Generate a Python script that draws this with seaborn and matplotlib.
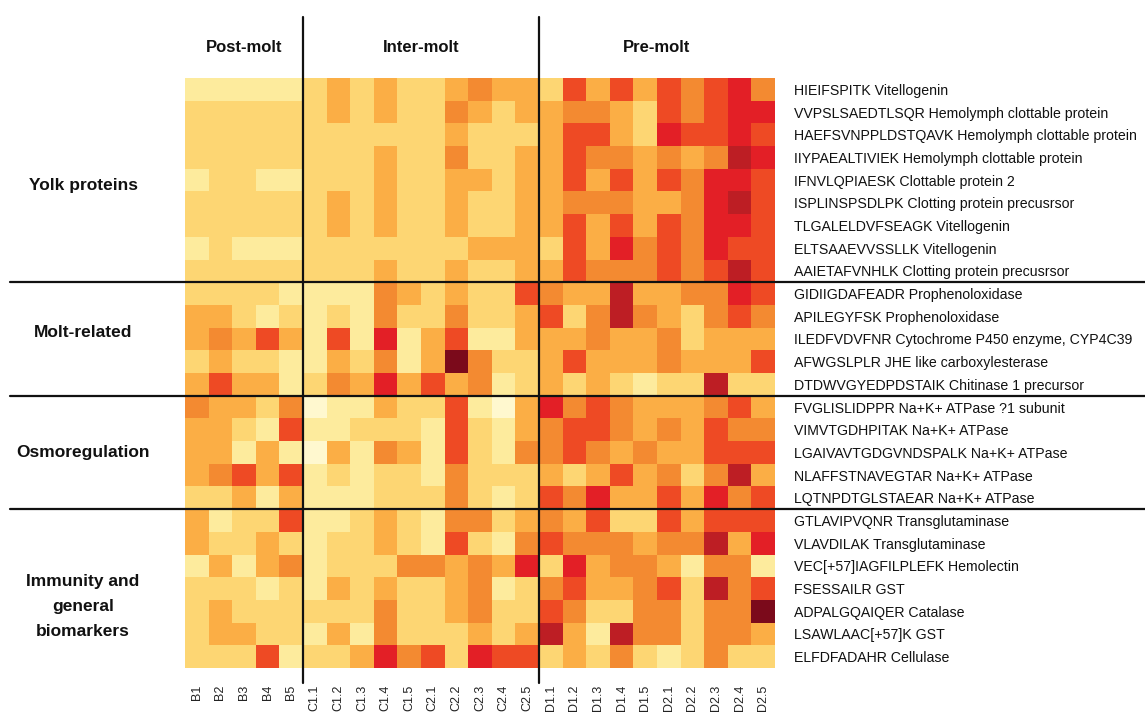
import numpy as np
import pandas as pd
import seaborn as sns
import matplotlib.pyplot as plt
from matplotlib.colors import ListedColormap

# column (sample) labels
samples_b = ["B1", "B2", "B3", "B4", "B5"]
samples_c = ["C1.1", "C1.2", "C1.3", "C1.4", "C1.5", "C2.1", "C2.2", "C2.3", "C2.4", "C2.5"]
samples_d = ["D1.1", "D1.2", "D1.3", "D1.4", "D1.5", "D2.1", "D2.2", "D2.3", "D2.4", "D2.5"]

# peptide labels per group
yolk_rows = [
    "HIEIFSPITK Vitellogenin",
    "VVPSLSAEDTLSQR Hemolymph clottable protein",
    "HAEFSVNPPLDSTQAVK Hemolymph clottable protein",
    "IIYPAEALTIVIEK Hemolymph clottable protein",
    "IFNVLQPIAESK Clottable protein 2",
    "ISPLINSPSDLPK Clotting protein precusrsor",
    "TLGALELDVFSEAGK Vitellogenin",
    "ELTSAAEVVSSLLK Vitellogenin",
    "AAIETAFVNHLK Clotting protein precusrsor",
]
molt_rows = [
    "GIDIIGDAFEADR Prophenoloxidase",
    "APILEGYFSK Prophenoloxidase",
    "ILEDFVDVFNR Cytochrome P450 enzyme, CYP4C39",
    "AFWGSLPLR JHE like carboxylesterase",
    "DTDWVGYEDPDSTAIK Chitinase 1 precursor",
]
osmo_rows = [
    "FVGLISLIDPPR Na+K+ ATPase ?1 subunit",
    "VIMVTGDHPITAK Na+K+ ATPase",
    "LGAIVAVTGDGVNDSPALK Na+K+ ATPase",
    "NLAFFSTNAVEGTAR Na+K+ ATPase",
    "LQTNPDTGLSTAEAR Na+K+ ATPase",
]
immu_rows = [
    "GTLAVIPVQNR Transglutaminase",
    "VLAVDILAK Transglutaminase",
    "VEC[+57]IAGFILPLEFK Hemolectin",
    "FSESSAILR GST",
    "ADPALGQAIQER Catalase",
    "LSAWLAAC[+57]K GST",
    "ELFDFADAHR Cellulase",
]

# abundance level (0 = lowest, 8 = highest), columns B1..B5, C1.1..C2.5, D1.1..D2.5
yolk_levels = [
    [1, 1, 1, 1, 1, 2, 3, 2, 3, 2, 2, 3, 4, 3, 3, 2, 5, 3, 5, 3, 5, 4, 5, 6, 4],
    [2, 2, 2, 2, 2, 2, 3, 2, 3, 2, 2, 4, 3, 2, 3, 3, 4, 4, 3, 2, 5, 4, 5, 6, 6],
    [2, 2, 2, 2, 2, 2, 2, 2, 2, 2, 2, 3, 2, 2, 2, 3, 5, 5, 3, 2, 6, 5, 5, 6, 5],
    [2, 2, 2, 2, 2, 2, 2, 2, 3, 2, 2, 4, 2, 2, 3, 3, 5, 4, 4, 3, 4, 3, 4, 7, 6],
    [1, 2, 2, 1, 1, 2, 2, 2, 3, 2, 2, 3, 3, 2, 3, 3, 5, 3, 5, 3, 5, 4, 6, 6, 5],
    [2, 2, 2, 2, 2, 2, 3, 2, 3, 2, 2, 3, 2, 2, 3, 3, 4, 4, 4, 3, 3, 4, 6, 7, 5],
    [2, 2, 2, 2, 2, 2, 3, 2, 3, 2, 2, 3, 2, 2, 3, 3, 5, 3, 5, 3, 5, 4, 6, 6, 5],
    [1, 2, 1, 1, 1, 2, 2, 2, 2, 2, 2, 2, 3, 3, 3, 2, 5, 3, 6, 4, 5, 4, 6, 5, 5],
    [2, 2, 2, 2, 2, 2, 2, 2, 3, 2, 2, 3, 2, 2, 3, 3, 5, 4, 4, 4, 5, 4, 5, 7, 5],
]
molt_levels = [
    [2, 2, 2, 2, 1, 1, 1, 1, 4, 3, 2, 3, 2, 2, 5, 4, 3, 3, 7, 3, 3, 4, 4, 6, 5],
    [3, 3, 2, 1, 2, 1, 2, 1, 4, 2, 2, 4, 2, 2, 3, 5, 2, 4, 7, 4, 3, 2, 4, 5, 4],
    [3, 4, 3, 5, 3, 1, 5, 1, 6, 1, 3, 5, 1, 1, 3, 3, 3, 4, 3, 3, 4, 2, 3, 3, 3],
    [2, 3, 2, 2, 1, 1, 3, 2, 4, 1, 3, 8, 4, 2, 2, 3, 5, 3, 3, 3, 4, 3, 3, 3, 5],
    [3, 5, 3, 3, 1, 2, 4, 3, 6, 3, 5, 3, 4, 1, 2, 3, 2, 3, 2, 1, 2, 2, 7, 2, 2],
]
osmo_levels = [
    [4, 3, 3, 2, 4, 0, 1, 1, 3, 2, 2, 5, 1, 0, 3, 6, 4, 5, 4, 3, 3, 3, 4, 5, 3],
    [3, 3, 2, 1, 5, 1, 1, 2, 2, 2, 1, 5, 2, 1, 3, 4, 5, 5, 4, 3, 4, 3, 5, 4, 4],
    [3, 3, 1, 3, 1, 0, 3, 1, 4, 3, 1, 5, 2, 1, 4, 4, 5, 4, 3, 4, 3, 3, 5, 5, 5],
    [3, 4, 5, 3, 5, 1, 2, 1, 2, 2, 1, 4, 2, 2, 2, 3, 2, 3, 5, 3, 4, 2, 4, 7, 3],
    [2, 2, 3, 1, 3, 1, 1, 1, 2, 2, 2, 4, 2, 1, 2, 5, 4, 6, 3, 3, 5, 3, 6, 4, 5],
]
immu_levels = [
    [3, 1, 2, 2, 5, 1, 1, 2, 3, 2, 1, 4, 4, 2, 3, 4, 3, 5, 2, 2, 5, 3, 5, 5, 5],
    [3, 2, 2, 3, 2, 1, 2, 2, 3, 2, 1, 5, 2, 1, 4, 5, 4, 4, 4, 3, 4, 4, 7, 3, 6],
    [1, 3, 1, 3, 4, 1, 2, 2, 2, 4, 4, 3, 4, 3, 6, 2, 6, 3, 4, 4, 3, 1, 4, 4, 1],
    [2, 2, 2, 1, 2, 1, 3, 2, 3, 2, 2, 3, 4, 1, 2, 4, 5, 3, 3, 4, 5, 2, 7, 4, 5],
    [2, 3, 2, 2, 2, 2, 2, 2, 4, 2, 2, 3, 4, 2, 2, 5, 4, 2, 2, 4, 4, 2, 4, 4, 8],
    [2, 3, 3, 2, 2, 1, 3, 1, 4, 2, 2, 2, 3, 2, 3, 7, 3, 1, 7, 4, 4, 2, 4, 4, 3],
    [2, 2, 2, 5, 1, 2, 2, 3, 6, 4, 5, 2, 6, 5, 5, 2, 3, 2, 4, 2, 1, 2, 4, 2, 2],
]

groups = ["Yolk proteins", "Molt-related", "Osmoregulation", "Immunity and\ngeneral\nbiomarkers"]
stages = ["Post-molt", "Inter-molt", "Pre-molt"]

palette = ["#FFF8CF", "#FDEB9D", "#FDD673", "#FBAE45", "#F38A31",
           "#EE4A24", "#E31F26", "#BD1E24", "#7B0A1B"]

# build table
columns = samples_b + samples_c + samples_d
row_labels = yolk_rows + molt_rows + osmo_rows + immu_rows
df = pd.DataFrame(yolk_levels + molt_levels + osmo_levels + immu_levels,
                  index=row_labels, columns=columns)

sns.set_theme(style="white")
plt.rcParams['font.family'] = ['Liberation Sans', 'DejaVu Sans']

fig = plt.figure(figsize=(11.45, 7.17), dpi=100)
W, H = 1145, 717
ax = fig.add_axes([185 / W, 1 - 668 / H, 590 / W, 590 / H])

sns.heatmap(df, ax=ax, cmap=ListedColormap(palette), vmin=-0.5, vmax=8.5,
            cbar=False, linewidths=0, square=False)

## tick labels
ax.yaxis.tick_right()
ax.set_yticks(np.arange(len(row_labels)) + 0.5)
ax.set_yticklabels(row_labels, rotation=0, ha='left', fontsize=10.2, color='#111111')
ax.set_xticks(np.arange(len(columns)) + 0.5)
ax.set_xticklabels(columns, rotation=90, fontsize=9, color='#222222')
ax.tick_params(axis='y', length=0, pad=14)
ax.tick_params(axis='x', length=0, pad=12)
ax.set_xlabel("")
ax.set_ylabel("")

## separators
n_rows = len(row_labels)
bounds = np.cumsum([len(yolk_rows), len(molt_rows), len(osmo_rows)])
ytr = ax.get_yaxis_transform()
for b in bounds:
    ax.plot([-175 / 590, 970 / 590], [b, b], color='#111111', lw=1.6,
            transform=ytr, clip_on=False)
xtr = ax.get_xaxis_transform()
for b in [len(samples_b), len(samples_b) + len(samples_c)]:
    ax.plot([b, b], [(668 - 683) / 590, (668 - 17) / 590], color='#111111', lw=1.6,
            transform=xtr, clip_on=False)

## stage titles
centers = [len(samples_b) / 2,
           len(samples_b) + len(samples_c) / 2,
           len(samples_b) + len(samples_c) + len(samples_d) / 2]
for name, cx in zip(stages, centers):
    ax.text(cx, (668 - 48) / 590, name, transform=xtr, ha='center', va='center',
            fontsize=12, fontweight='bold', color='#111111')

## group titles (small nudges to sit like the original)
nudges = [0.25, -0.28, 0.0, 0.8]
edges = np.concatenate([[0], bounds, [n_rows]])
for name, a, b, dy in zip(groups, edges[:-1], edges[1:], nudges):
    ax.text(-102 / 590, (a + b) / 2 + dy, name, transform=ytr, ha='center', va='center',
            fontsize=12.5, fontweight='bold', color='#111111', linespacing=1.82)

plt.savefig("out.png", dpi=100)
